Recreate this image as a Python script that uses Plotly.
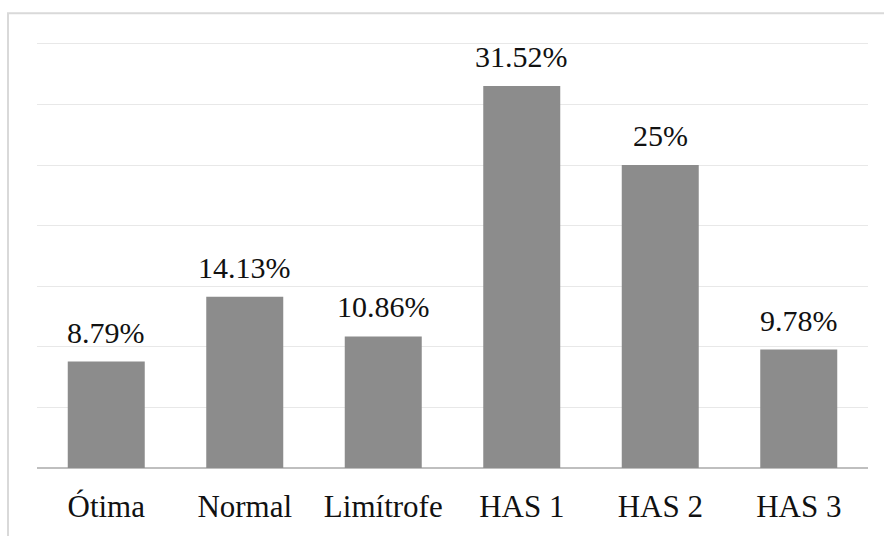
import plotly.graph_objects as go

categories = ["Ótima", "Normal", "Limítrofe", "HAS 1", "HAS 2", "HAS 3"]
values = [8.79, 14.13, 10.86, 31.52, 25, 9.78]
labels = ["8.79%", "14.13%", "10.86%", "31.52%", "25%", "9.78%"]
grid_vals = [5, 10, 15, 20, 25, 30, 35]

W, H = 884, 536
L, R, T, B = 37, 16, 40, 64
pw, ph = W - L - R, H - T - B
YMAX = 35 * ph / 428.0
FONT = "'Liberation Serif', 'Times New Roman', Times, 'DejaVu Serif', serif"

fig = go.Figure(go.Bar(x=categories, y=values, marker=dict(color="#8c8c8c", line=dict(width=0)),
                       hoverinfo="skip"))

for c, v, t in zip(categories, values, labels):
    fig.add_annotation(x=c, y=v, text=t, showarrow=False, yanchor="bottom", yshift=11,
                       font=dict(family=FONT, size=30, color="#111111"))

fig.add_shape(type="rect", xref="paper", yref="paper",
              x0=(8 - L) / pw, x1=(W + 10 - L) / pw,
              y0=-(H + 10 - T - ph) / ph, y1=(T + ph - 13) / ph,
              line=dict(color="#d9d9d9", width=2), fillcolor="rgba(0,0,0,0)", layer="below")

fig.update_layout(
    width=W, height=H,
    margin=dict(l=L, r=R, t=T, b=B),
    paper_bgcolor="white", plot_bgcolor="white",
    bargap=0.444, showlegend=False,
    font=dict(family=FONT, size=31, color="#111111"),
)
fig.update_xaxes(showgrid=False, showline=False, ticks="", ticklabelstandoff=17,
                 tickfont=dict(family=FONT, size=31, color="#111111"))
fig.update_yaxes(range=[0, YMAX], tickvals=grid_vals, showgrid=True,
                 gridcolor="#e8e8e8", gridwidth=1,
                 zeroline=True, zerolinecolor="#bfbfbf", zerolinewidth=2,
                 showticklabels=False, ticks="")

fig.write_html("out.html", config={"displayModeBar": False},
               post_script="document.body.style.margin='0';")
